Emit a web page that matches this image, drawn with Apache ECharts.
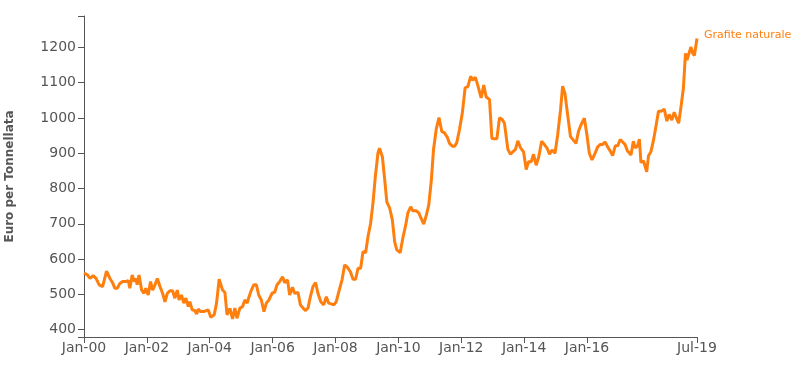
<!DOCTYPE html>
<html>
<head>
<meta charset="utf-8">
<script src="https://cdn.jsdelivr.net/npm/echarts@6/dist/echarts.min.js"></script>
<style>
  html, body { margin: 0; padding: 0; background: #fff; }
  #chart { width: 807px; height: 369px; }
</style>
</head>
<body>
<div id="chart"></div>
<script>
// months counted from Jan-2000 (x position of each reading)
const months = [
  0, 1.3, 2.3, 3.5, 4.6, 5.8, 7.1, 7.8, 8.6, 9.9, 10.9, 11.8, 12.7, 13.7, 14.7, 16, 16.9, 17.5, 18.4, 19.2,
  19.8, 20.3, 21, 22, 22.9, 23.6, 24.5, 25.4, 26.2, 27.1, 28, 29, 30, 30.9, 31.8, 32.8, 33.8, 34.7, 35.6, 36.3,
  37.2, 38.1, 38.9, 39.8, 40.4, 41.3, 42.3, 43, 43.6, 44.5, 45.7, 47.4, 48.4, 49.7, 50.6, 51.6, 52.9, 53.8, 54.6, 55.7,
  56.7, 57.6, 58.4, 59.5, 60.5, 61.4, 62.3, 63, 63.9, 64.8, 65.8, 66.7, 67.7, 68.7, 69.6, 70.6, 71.8, 72.8, 73.7, 74.7,
  75.8, 76.6, 77.7, 78.5, 79.6, 80.4, 81.7, 82.6, 83.6, 84.6, 85.5, 86.4, 87.4, 88.4, 89.3, 90.4, 91.5, 92.5, 93.4, 94.4,
  95.4, 96.3, 97.3, 98.5, 99.5, 100.5, 101.7, 102.7, 103.7, 104.6, 105.6, 106.5, 107.5, 108.4, 109.4, 110.3, 111.2, 112.2, 112.8, 113.9,
  114.8, 115.6, 116.7, 117.7, 118.6, 119.4, 120.7, 121.7, 122.8, 123.6, 124.7, 125.5, 126.8, 127.8, 128.7, 129.7, 130.7, 131.6, 132.6, 133.4,
  134.5, 135.5, 136.6, 137.6, 138.7, 139.5, 140.6, 141.5, 142.3, 143.3, 144.4, 145.5, 146.5, 147.6, 148.4, 149.4, 150.3, 151.6, 152.6, 153.5,
  154.8, 155.7, 156.7, 157.6, 158.6, 159.6, 160.5, 161.8, 162.8, 163.7, 164.7, 165.6, 166.6, 167.8, 168.8, 169.7, 170.7, 171.6, 172.6, 173.6,
  174.7, 175.7, 176.8, 177.7, 178.7, 179.8, 180.8, 181.9, 182.7, 183.6, 184.6, 185.7, 186.8, 187.8, 188.8, 189.7, 191, 192, 192.9, 193.9,
  194.8, 196.1, 197.1, 198, 198.9, 199.9, 200.9, 201.8, 202.8, 203.7, 204.7, 205.6, 206.5, 207.5, 208.8, 209.7, 210.4, 211.3, 212, 212.6,
  213.6, 214.8, 215.5, 216.4, 217.4, 218.3, 219.3, 220.3, 221.5, 222.5, 223.4, 224.4, 225.3, 226.2, 227, 227.9, 228.8, 229.6, 230.2, 230.8,
  231.7, 232.4, 233, 234
];

// Grafite naturale, euro per tonnellata
const prices = [
  560, 555, 545, 553, 545, 527, 522, 527, 566, 545, 533, 517, 517, 531, 536, 536, 539, 517, 555, 536,
  545, 527, 555, 512, 503, 517, 498, 536, 512, 527, 545, 522, 503, 479, 503, 510, 510, 489, 512, 484,
  498, 475, 489, 465, 479, 456, 454, 444, 458, 451, 451, 456, 435, 442, 475, 543, 512, 505, 442, 460,
  430, 461, 432, 461, 465, 484, 475, 493, 512, 527, 527, 498, 484, 451, 475, 484, 503, 506, 527, 536,
  550, 533, 541, 498, 520, 503, 505, 470, 461, 454, 461, 493, 522, 533, 503, 479, 470, 493, 475, 473,
  470, 479, 508, 541, 583, 577, 564, 543, 543, 574, 574, 621, 618, 663, 701, 758, 833, 900, 914, 890,
  824, 762, 744, 711, 649, 626, 618, 659, 696, 730, 748, 737, 737, 731, 715, 699, 725, 753, 824, 909,
  970, 1001, 961, 958, 945, 928, 920, 920, 930, 966, 1013, 1086, 1088, 1118, 1107, 1115, 1093, 1057, 1093, 1060,
  1052, 942, 941, 941, 1000, 996, 985, 911, 897, 904, 911, 935, 916, 904, 854, 876, 876, 897, 866, 890,
  934, 925, 914, 897, 909, 900, 951, 1022, 1090, 1069, 1010, 947, 937, 928, 963, 980, 999, 951, 900, 881,
  895, 918, 925, 925, 932, 918, 906, 893, 921, 921, 939, 932, 925, 906, 895, 934, 915, 921, 940, 874,
  878, 847, 893, 904, 937, 975, 1019, 1019, 1025, 991, 1010, 994, 1016, 999, 985, 1032, 1084, 1183, 1164, 1180,
  1201, 1183, 1177, 1225
];

const xTicks = [0, 24, 48, 72, 96, 120, 144, 168, 192, 234];
const yTicks = [400, 500, 600, 700, 800, 900, 1000, 1100, 1200];
const monthNames = ['Jan', 'Feb', 'Mar', 'Apr', 'May', 'Jun', 'Jul', 'Aug', 'Sep', 'Oct', 'Nov', 'Dec'];

const yMin = 379;
const yMax = 1289;

const chart = echarts.init(document.getElementById('chart'));

const axisGrey = '#555';
const labelGrey = '#555';

const option = {
    animation: false,
    textStyle: { fontFamily: 'DejaVu Sans' },
    grid: { left: 84, right: 110, top: 16, bottom: 32, outerBoundsMode: 'none' },
    xAxis: {
        type: 'value',
        min: 0,
        max: 234,
        splitLine: { show: false },
        axisLine: { lineStyle: { color: axisGrey, width: 1 } },
        axisTick: { show: true, length: 6, customValues: xTicks, lineStyle: { color: axisGrey } },
        axisLabel: {
            customValues: xTicks,
            color: labelGrey,
            fontSize: 14,
            margin: 4,
            formatter: function (v) {
                const y = Math.floor(v / 12);
                const m = Math.round(v - y * 12);
                return monthNames[m] + '-' + String(y).padStart(2, '0');
            }
        }
    },
    yAxis: {
        type: 'value',
        min: yMin,
        max: yMax,
        name: 'Euro per Tonnellata',
        nameLocation: 'middle',
        nameGap: 68,
        nameTextStyle: { color: labelGrey, fontSize: 12, fontWeight: 'bold' },
        splitLine: { show: false },
        axisLine: { show: true, lineStyle: { color: axisGrey, width: 1 } },
        axisTick: { show: true, length: 6, customValues: [yMin].concat(yTicks, [yMax]), lineStyle: { color: axisGrey } },
        axisLabel: {
            customValues: yTicks,
            color: labelGrey,
            fontSize: 14,
            margin: 8,
            formatter: function (v) { return String(v); }
        }
    },
    series: [
        {
            name: 'Grafite naturale',
            type: 'line',
            data: months.map((m, i) => [m, prices[i]]),
            showSymbol: false,
            lineStyle: { color: '#ff7f0e', width: 3 },
            itemStyle: { color: '#ff7f0e' },
            endLabel: {
                show: true,
                formatter: 'Grafite naturale',
                color: '#ff7f0e',
                fontSize: 11,
                distance: 7,
                offset: [0, -3]
            }
        }
    ]
};

chart.setOption(option);
</script>
</body>
</html>
